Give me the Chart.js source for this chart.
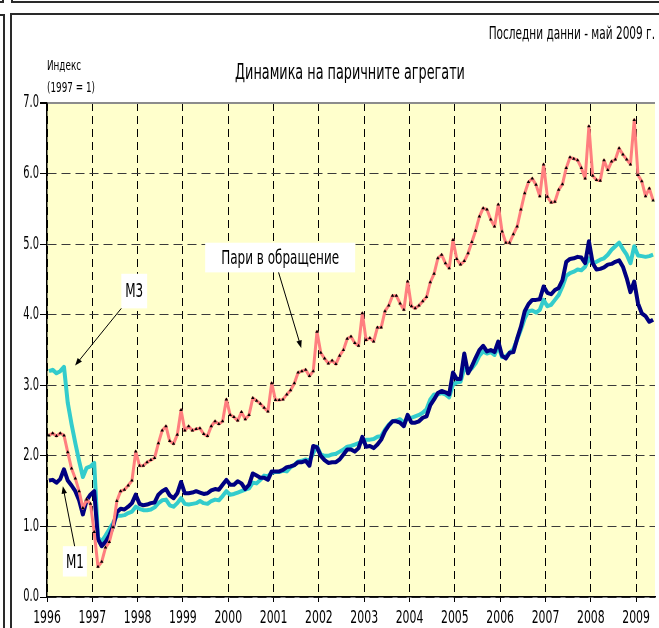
<!DOCTYPE html>
<html>
<head>
<meta charset="utf-8">
<script src="https://cdn.jsdelivr.net/npm/chart.js@4/dist/chart.umd.min.js"></script>
<style>
  html, body { margin: 0; padding: 0; background: #fff; }
  #wrap { position: relative; width: 659px; height: 628px; overflow: hidden; }
  #chart { position: absolute; left: 0; top: 0; }
  .ln { position: absolute; background: #2a2a2a; }
</style>
</head>
<body>
<div id="wrap">
  <canvas id="chart" width="659" height="628"></canvas>
  <!-- frame lines around the panel -->
  <div class="ln" style="left:0;top:1px;width:4px;height:2px"></div>
  <div class="ln" style="left:2px;top:0;width:2px;height:3px"></div>
  <div class="ln" style="left:11px;top:0;width:2px;height:3px"></div>
  <div class="ln" style="left:11px;top:1px;width:648px;height:2px"></div>
  <div class="ln" style="left:0;top:14px;width:4px;height:2px"></div>
  <div class="ln" style="left:3px;top:14px;width:2px;height:614px"></div>
  <div class="ln" style="left:10px;top:13px;width:649px;height:2px"></div>
  <div class="ln" style="left:10px;top:13px;width:2px;height:615px"></div>
</div>
<script>
const startYear = 1996;
const years = ['1996', '1997', '1998', '1999', '2000', '2001', '2002', '2003', '2004', '2005', '2006', '2007', '2008', '2009'];
const yTicks = [0, 1, 2, 3, 4, 5, 6, 7];

// monthly index values, Jan 1996 - May 2009 (1997 = 1)
const currency = [
  2.29, 2.32, 2.28, 2.32, 2.29, 2.05, 1.82, 1.68, 1.50, 1.26, 1.38, 1.32,
  0.92, 0.43, 0.50, 0.70, 0.78, 0.99, 1.36, 1.50, 1.52, 1.58, 1.65, 2.06,
  1.86, 1.86, 1.91, 1.94, 1.97, 2.18, 2.36, 2.42, 2.21, 2.17, 2.30, 2.65,
  2.36, 2.42, 2.36, 2.38, 2.39, 2.31, 2.28, 2.42, 2.49, 2.45, 2.49, 2.80,
  2.58, 2.55, 2.50, 2.62, 2.52, 2.58, 2.82, 2.78, 2.74, 2.68, 2.63, 3.03,
  2.79, 2.79, 2.80, 2.87, 2.93, 3.03, 3.18, 3.20, 3.22, 3.13, 3.20, 3.76,
  3.46, 3.38, 3.31, 3.35, 3.30, 3.42, 3.50, 3.66, 3.69, 3.60, 3.56, 4.02,
  3.64, 3.67, 3.62, 3.82, 3.82, 4.05, 4.13, 4.27, 4.27, 4.16, 4.07, 4.47,
  4.12, 4.09, 4.13, 4.19, 4.25, 4.46, 4.58, 4.80, 4.85, 4.73, 4.66, 5.06,
  4.79, 4.71, 4.76, 4.87, 5.03, 5.19, 5.39, 5.51, 5.49, 5.35, 5.25, 5.56,
  5.18, 5.02, 5.02, 5.14, 5.25, 5.49, 5.72, 5.88, 5.93, 5.84, 5.68, 6.13,
  5.67, 5.59, 5.60, 5.77, 5.85, 6.08, 6.23, 6.21, 6.19, 6.08, 5.93, 6.67,
  5.97, 5.91, 5.90, 6.19, 6.05, 6.17, 6.20, 6.36, 6.27, 6.20, 6.13, 6.76,
  5.98, 5.89, 5.68, 5.79, 5.62
];
const m1 = [
  1.65, 1.66, 1.62, 1.67, 1.81, 1.65, 1.58, 1.50, 1.37, 1.17, 1.37, 1.45,
  1.50, 0.82, 0.72, 0.78, 0.87, 1.00, 1.20, 1.25, 1.24, 1.28, 1.33, 1.45,
  1.32, 1.30, 1.31, 1.33, 1.34, 1.45, 1.50, 1.53, 1.44, 1.40, 1.47, 1.63,
  1.47, 1.47, 1.48, 1.50, 1.48, 1.46, 1.47, 1.51, 1.53, 1.52, 1.59, 1.66,
  1.59, 1.59, 1.64, 1.61, 1.53, 1.59, 1.75, 1.72, 1.69, 1.69, 1.66, 1.78,
  1.78, 1.78, 1.80, 1.84, 1.85, 1.87, 1.91, 1.91, 1.93, 1.86, 2.14, 2.12,
  2.00, 1.94, 1.90, 1.91, 1.91, 1.95, 2.02, 2.09, 2.09, 2.06, 2.11, 2.27,
  2.13, 2.14, 2.11, 2.16, 2.23, 2.35, 2.43, 2.49, 2.49, 2.47, 2.42, 2.58,
  2.47, 2.47, 2.49, 2.54, 2.56, 2.72, 2.80, 2.89, 2.92, 2.90, 2.87, 3.18,
  3.09, 3.09, 3.45, 3.17, 3.27, 3.39, 3.50, 3.56, 3.48, 3.50, 3.47, 3.62,
  3.42, 3.38, 3.46, 3.47, 3.66, 3.83, 4.05, 4.15, 4.21, 4.21, 4.22, 4.40,
  4.31, 4.29, 4.35, 4.38, 4.49, 4.75, 4.79, 4.80, 4.82, 4.81, 4.73, 5.04,
  4.73, 4.64, 4.65, 4.67, 4.71, 4.72, 4.75, 4.77, 4.68, 4.52, 4.32, 4.47,
  4.16, 4.02, 3.98, 3.90, 3.93
];
const m3 = [
  3.20, 3.22, 3.17, 3.20, 3.26, 2.75, 2.45, 2.18, 1.93, 1.70, 1.83, 1.85,
  1.90, 0.84, 0.79, 0.87, 0.96, 1.05, 1.15, 1.15, 1.16, 1.19, 1.21, 1.28,
  1.25, 1.23, 1.23, 1.24, 1.27, 1.33, 1.37, 1.38, 1.30, 1.28, 1.33, 1.40,
  1.32, 1.31, 1.32, 1.33, 1.36, 1.33, 1.32, 1.36, 1.38, 1.37, 1.43, 1.50,
  1.45, 1.46, 1.48, 1.50, 1.52, 1.54, 1.62, 1.61, 1.66, 1.72, 1.71, 1.76,
  1.77, 1.77, 1.79, 1.78, 1.84, 1.87, 1.92, 1.93, 1.95, 1.93, 2.04, 2.13,
  2.02, 2.00, 2.00, 2.02, 2.03, 2.06, 2.09, 2.13, 2.14, 2.16, 2.18, 2.20,
  2.23, 2.23, 2.24, 2.27, 2.28, 2.37, 2.44, 2.49, 2.50, 2.52, 2.47, 2.54,
  2.54, 2.56, 2.58, 2.61, 2.66, 2.80, 2.87, 2.87, 2.89, 2.87, 2.83, 3.01,
  3.04, 3.05, 3.24, 3.20, 3.24, 3.31, 3.42, 3.48, 3.45, 3.47, 3.43, 3.55,
  3.40, 3.41, 3.46, 3.51, 3.65, 3.79, 3.95, 4.05, 4.06, 4.03, 4.07, 4.21,
  4.12, 4.14, 4.21, 4.28, 4.40, 4.55, 4.59, 4.61, 4.64, 4.63, 4.68, 4.80,
  4.73, 4.75, 4.78, 4.80, 4.85, 4.92, 4.97, 5.02, 4.93, 4.85, 4.73, 4.97,
  4.84, 4.83, 4.82, 4.83, 4.85
];

// callouts, placed in data units (year, index)
const notes = [
  { text: 'M3', box: [1997.64, 4.58, 1998.21, 4.09], from: [1997.64, 4.09], to: [1996.62, 3.28] },
  { text: 'M1', box: [1996.35, 0.72, 1996.88, 0.29], from: [1996.61, 0.72], to: [1996.35, 1.57] },
  { text: 'Пари в обращение', box: [1999.49, 5.02, 2002.80, 4.60], from: [2001.11, 4.60], to: [2001.61, 3.53] }
];

// each month sits in the middle of its slot, year gridlines fall between Dec and Jan
function toPoints(values) {
  return values.map((v, i) => ({ x: startYear + (i + 0.5) / 12, y: v }));
}

const FONT = '"DejaVu Sans", Verdana, sans-serif';
function drawText(ctx, text, x, y, size, align, sx) {
  ctx.save();
  ctx.font = size + 'px ' + FONT;
  ctx.fillStyle = '#000';
  ctx.textBaseline = 'middle';
  ctx.textAlign = align;
  ctx.translate(x, y);
  ctx.scale(sx, 1);
  ctx.fillText(text, 0, 0);
  ctx.restore();
}

const plotBackground = {
  id: 'plotBackground',
  beforeDraw(chart) {
    const { ctx, chartArea: a } = chart;
    ctx.save();
    ctx.fillStyle = '#FFFFCC';
    ctx.fillRect(a.left, a.top, a.right - a.left, a.bottom - a.top);
    ctx.restore();
  }
};

const callouts = {
  id: 'callouts',
  afterDatasetsDraw(chart) {
    const { ctx, scales: { x, y } } = chart;
    notes.forEach(n => {
      const x1 = x.getPixelForValue(n.box[0]), y1 = y.getPixelForValue(n.box[1]);
      const x2 = x.getPixelForValue(n.box[2]), y2 = y.getPixelForValue(n.box[3]);
      ctx.save();
      ctx.fillStyle = '#fff';
      ctx.fillRect(x1, y1, x2 - x1, y2 - y1);
      // arrow
      const fx = x.getPixelForValue(n.from[0]), fy = y.getPixelForValue(n.from[1]);
      const tx = x.getPixelForValue(n.to[0]), ty = y.getPixelForValue(n.to[1]);
      const ang = Math.atan2(ty - fy, tx - fx);
      ctx.strokeStyle = '#000';
      ctx.lineWidth = 1;
      ctx.beginPath();
      ctx.moveTo(fx, fy);
      ctx.lineTo(tx - 5 * Math.cos(ang), ty - 5 * Math.sin(ang));
      ctx.stroke();
      ctx.fillStyle = '#000';
      ctx.beginPath();
      ctx.moveTo(tx, ty);
      ctx.lineTo(tx - 8 * Math.cos(ang - 0.35), ty - 8 * Math.sin(ang - 0.35));
      ctx.lineTo(tx - 8 * Math.cos(ang + 0.35), ty - 8 * Math.sin(ang + 0.35));
      ctx.closePath();
      ctx.fill();
      ctx.restore();
      drawText(ctx, n.text, (x1 + x2) / 2, (y1 + y2) / 2 + 1, 20, 'center', 0.6);
    });
  }
};

const labels = {
  id: 'labels',
  afterDraw(chart) {
    const { ctx, chartArea: a, scales: { x, y } } = chart;
    x.ticks.forEach((t, i) => {
      drawText(ctx, years[i], x.getPixelForValue(t.value), a.bottom + 22, 17, 'center', 0.64);
    });
    y.ticks.forEach(t => {
      drawText(ctx, t.value.toFixed(1), a.left - 8, y.getPixelForValue(t.value), 17, 'right', 0.58);
    });
    drawText(ctx, 'Последни данни - май 2009 г.', 655, 35, 17, 'right', 0.62);
    drawText(ctx, 'Динамика на паричните агрегати', 350, 74, 21, 'center', 0.61);
    drawText(ctx, 'Индекс', 47, 66, 14, 'left', 0.63);
    drawText(ctx, '(1997 = 1)', 47, 88, 14, 'left', 0.63);
  }
};

const isTop = c => c.tick && c.tick.value === 7;

new Chart(document.getElementById('chart'), {
  type: 'line',
  data: {
    datasets: [
      {
        label: 'Пари в обращение',
        data: toPoints(currency),
        borderColor: '#FF7F7F',
        borderWidth: 3,
        pointStyle: 'triangle',
        pointRadius: 2,
        pointBackgroundColor: '#000',
        pointBorderWidth: 0,
        order: 0
      },
      {
        label: 'M1',
        data: toPoints(m1),
        borderColor: '#000080',
        borderWidth: 4,
        pointRadius: 0,
        order: 1
      },
      {
        label: 'M3',
        data: toPoints(m3),
        borderColor: '#33CCCC',
        borderWidth: 4,
        pointRadius: 0,
        order: 2
      }
    ]
  },
  options: {
    responsive: false,
    animation: false,
    layout: { padding: { left: 0, right: 0, top: 103, bottom: 0 } },
    elements: { line: { tension: 0, borderJoinStyle: 'round' } },
    plugins: { legend: { display: false }, tooltip: { enabled: false } },
    scales: {
      x: {
        type: 'linear',
        min: startYear,
        max: 2009 + 5 / 12,
        afterBuildTicks: s => { s.ticks = years.map(v => ({ value: +v })); },
        afterFit: s => { s.height = 31; },
        ticks: { display: false },
        grid: { color: '#000', lineWidth: 1, tickLength: 5, tickColor: '#000', tickBorderDash: [] },
        border: { display: true, color: '#000', width: 1.5, dash: [8, 5] }
      },
      y: {
        min: 0,
        max: 7,
        afterBuildTicks: s => { s.ticks = yTicks.map(v => ({ value: v })); },
        afterFit: s => { s.width = 47; },
        ticks: { display: false },
        grid: {
          color: c => isTop(c) ? '#8c8c8c' : '#3a3a3a',
          lineWidth: c => isTop(c) ? 2 : 1,
          tickLength: 7,
          tickColor: '#000',
          tickBorderDash: []
        },
        border: { display: true, color: '#000', width: 1.5, dash: c => isTop(c) ? [] : [9, 5] }
      }
    }
  },
  plugins: [plotBackground, callouts, labels]
});
</script>
</body>
</html>
